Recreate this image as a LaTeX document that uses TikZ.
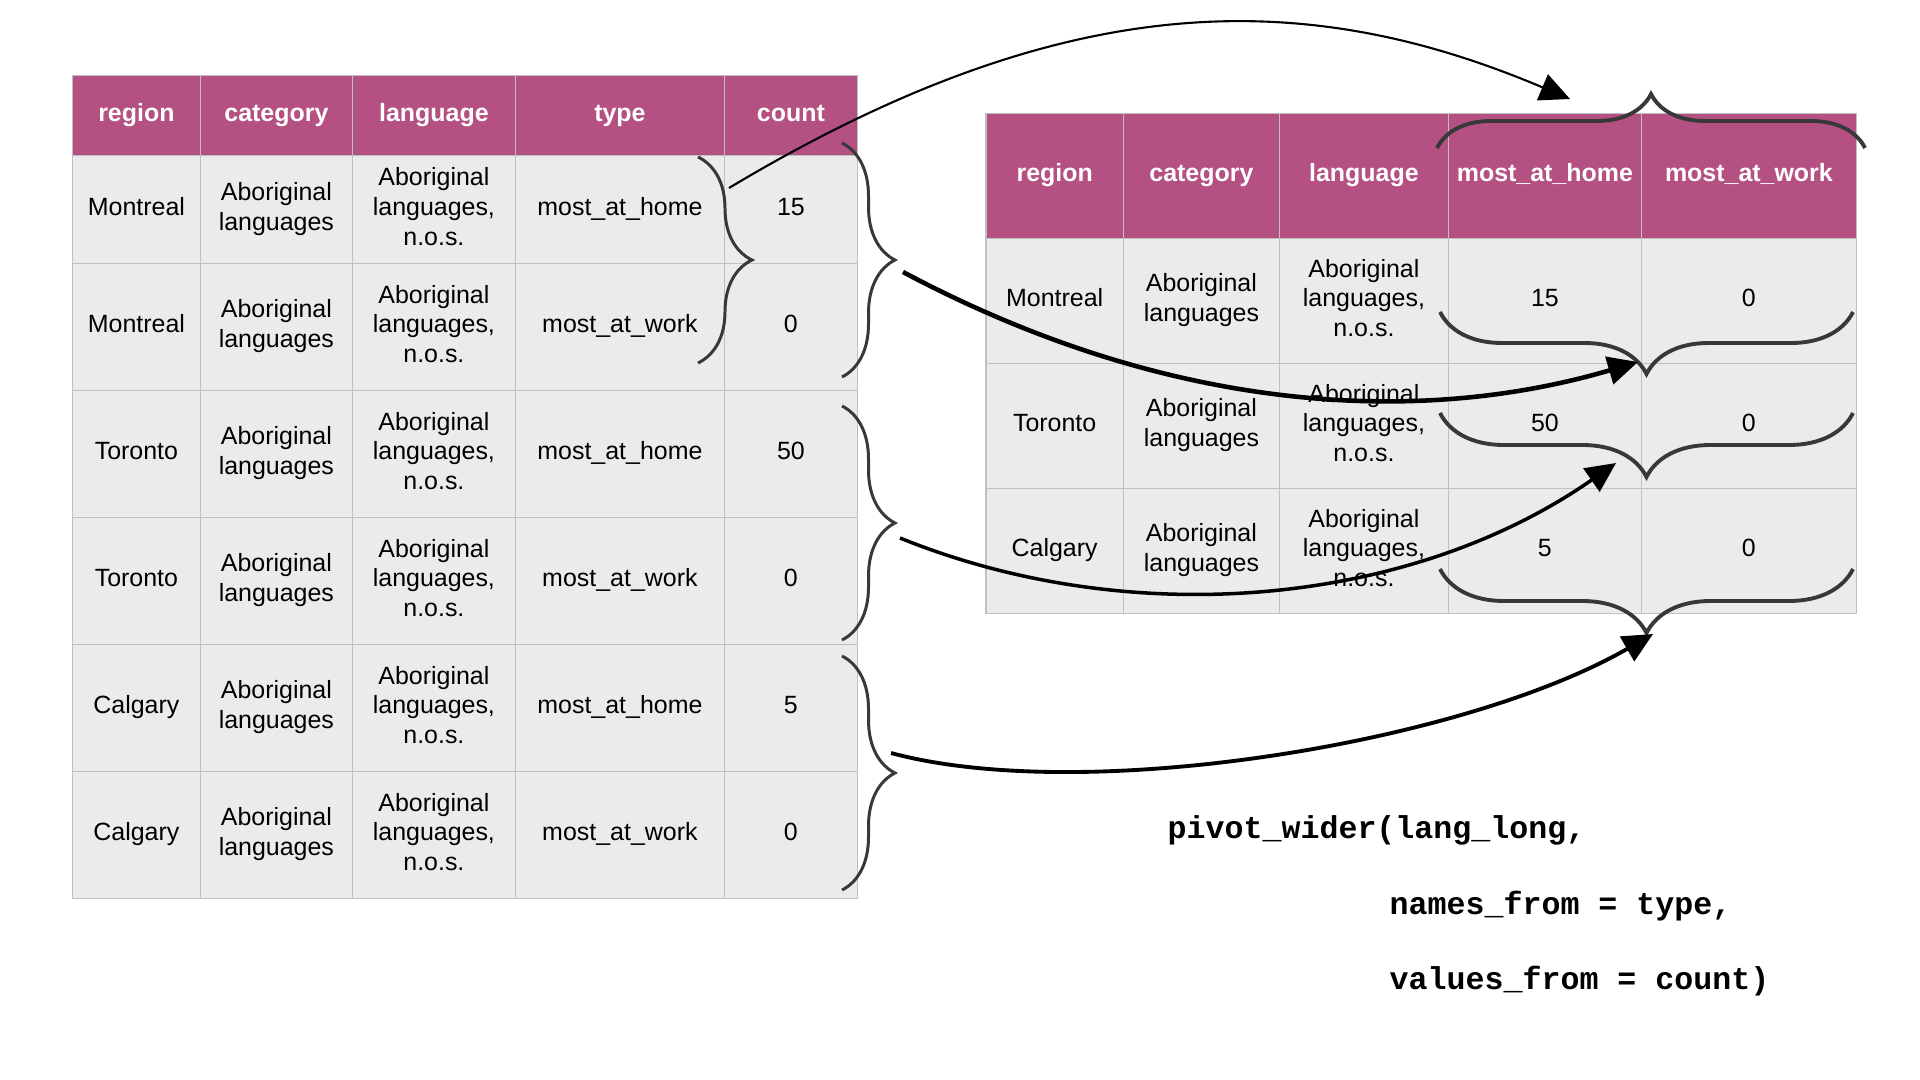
\documentclass[tikz,border=0pt]{standalone}
\usepackage{fontspec}
\setmainfont{Liberation Sans}
\setmonofont{Liberation Mono}
\usetikzlibrary{matrix,decorations.pathreplacing,arrows.meta}
\definecolor{head fill}{RGB}{180,81,130}
\definecolor{cell fill}{RGB}{235,235,235}
\definecolor{cell edge}{RGB}{192,192,192}
\colorlet{brace edge}{black!78}
\def\tablefont{\fontsize{7.1}{8.5}\selectfont}

\begin{document}
\begin{tikzpicture}[
    cell/.style={draw=cell edge, line width=0.4pt, fill=cell fill, font=\tablefont,
      align=center, anchor=center, inner sep=0pt, outer sep=0pt, minimum height=1.27cm,
      execute at begin node=\strut, execute at end node=\strut},
    head/.style={fill=head fill, text=white, font=\tablefont\bfseries},
    curly/.style={draw=brace edge, line width=0.85pt, decorate,
      decoration={brace, amplitude=#1}},
    flow/.style={-{Triangle[length=3mm, width=2.8mm]}, line width=#1},
    flow/.default=1.2pt,
    code/.style={font=\ttfamily\bfseries\fontsize{9}{11}\selectfont,
      anchor=base west, inner sep=0pt}]
\useasboundingbox (0,0) rectangle (19.2,-10.8);

% long table
\matrix (long) [matrix of nodes, anchor=north west, inner sep=0pt,
    column sep=-0.4pt, row sep=-0.4pt, nodes={cell},
    column 1/.style={nodes={text width=1.28cm}},
    column 2/.style={nodes={text width=1.52cm}},
    column 3/.style={nodes={text width=1.63cm}},
    column 4/.style={nodes={text width=2.09cm}},
    column 5/.style={nodes={text width=1.33cm}},
    row 1/.style={nodes={head, minimum height=0.80cm}},
    row 2/.style={nodes={minimum height=1.08cm}}] at (0.71,-0.74) {
  region & category & language & type & count \\
  Montreal & {Aboriginal\\languages} & {Aboriginal\\languages,\\n.o.s.} & most\_at\_home & 15 \\
  Montreal & {Aboriginal\\languages} & {Aboriginal\\languages,\\n.o.s.} & most\_at\_work & 0 \\
  Toronto & {Aboriginal\\languages} & {Aboriginal\\languages,\\n.o.s.} & most\_at\_home & 50 \\
  Toronto & {Aboriginal\\languages} & {Aboriginal\\languages,\\n.o.s.} & most\_at\_work & 0 \\
  Calgary & {Aboriginal\\languages} & {Aboriginal\\languages,\\n.o.s.} & most\_at\_home & 5 \\
  Calgary & {Aboriginal\\languages} & {Aboriginal\\languages,\\n.o.s.} & most\_at\_work & 0 \\
};

% wide table
\matrix (wide) [matrix of nodes, anchor=north west, inner sep=0pt,
    column sep=-0.4pt, row sep=-0.4pt, nodes={cell, minimum height=1.25cm},
    column 1/.style={nodes={text width=1.375cm}},
    column 2/.style={nodes={text width=1.56cm}},
    column 3/.style={nodes={text width=1.69cm}},
    column 4/.style={nodes={text width=1.93cm}},
    column 5/.style={nodes={text width=2.15cm}},
    row 1/.style={nodes={head}}] at (9.845,-1.12) {
  region & category & language & most\_at\_home & most\_at\_work \\
  Montreal & {Aboriginal\\languages} & {Aboriginal\\languages,\\n.o.s.} & 15 & 0 \\
  Toronto & {Aboriginal\\languages} & {Aboriginal\\languages,\\n.o.s.} & 50 & 0 \\
  Calgary & {Aboriginal\\languages} & {Aboriginal\\languages,\\n.o.s.} & 5 & 0 \\
};

% braces
\draw[curly=5.4mm] (6.98,-1.57) -- (6.98,-3.63);
\foreach \ya/\yb in {1.43/3.77, 4.06/6.40, 6.56/8.90}
  \draw[curly=5.3mm] (8.42,-\ya) -- (8.42,-\yb);
\draw[curly=5.4mm, line width=1.1pt] (14.37,-1.48) -- (18.65,-1.48);
\foreach \y/\amp in {3.12/6.2mm, 4.13/6.4mm, 5.69/6.4mm}
  \draw[curly=\amp, line width=1.1pt] (18.53,-\y) -- (14.40,-\y);

% arrows
\coordinate (home out) at (7.29,-1.88);
\coordinate (home in)  at (15.70,-0.99);
\coordinate (mtl out) at (9.03,-2.72);
\coordinate (mtl in)  at (16.38,-3.62);
\coordinate (tor out) at (9.00,-5.38);
\coordinate (tor in)  at (16.16,-4.63);
\coordinate (cal out) at (8.91,-7.53);
\coordinate (cal in)  at (16.53,-6.34);
\draw[flow=0.6pt] (home out) .. controls (10.71,0.17) and (13.10,0.11) .. (home in);
\draw[flow=1.3pt] (mtl out) .. controls (11.68,-4.13) and (14.17,-4.27) .. (mtl in);
\draw[flow=1.0pt] (tor out) .. controls (11.32,-6.32) and (14.11,-6.06) .. (tor in);
\draw[flow=1.1pt] (cal out) .. controls (10.84,-8.05) and (14.62,-7.44) .. (cal in);

% code
\node[code] (call)   at (11.67,-8.38) {pivot\_wider(lang\_long,};
\node[code] (names)  at (13.89,-9.14) {names\_from = type,};
\node[code] (values) at (13.89,-9.89) {values\_from = count)};
\end{tikzpicture}
\end{document}
